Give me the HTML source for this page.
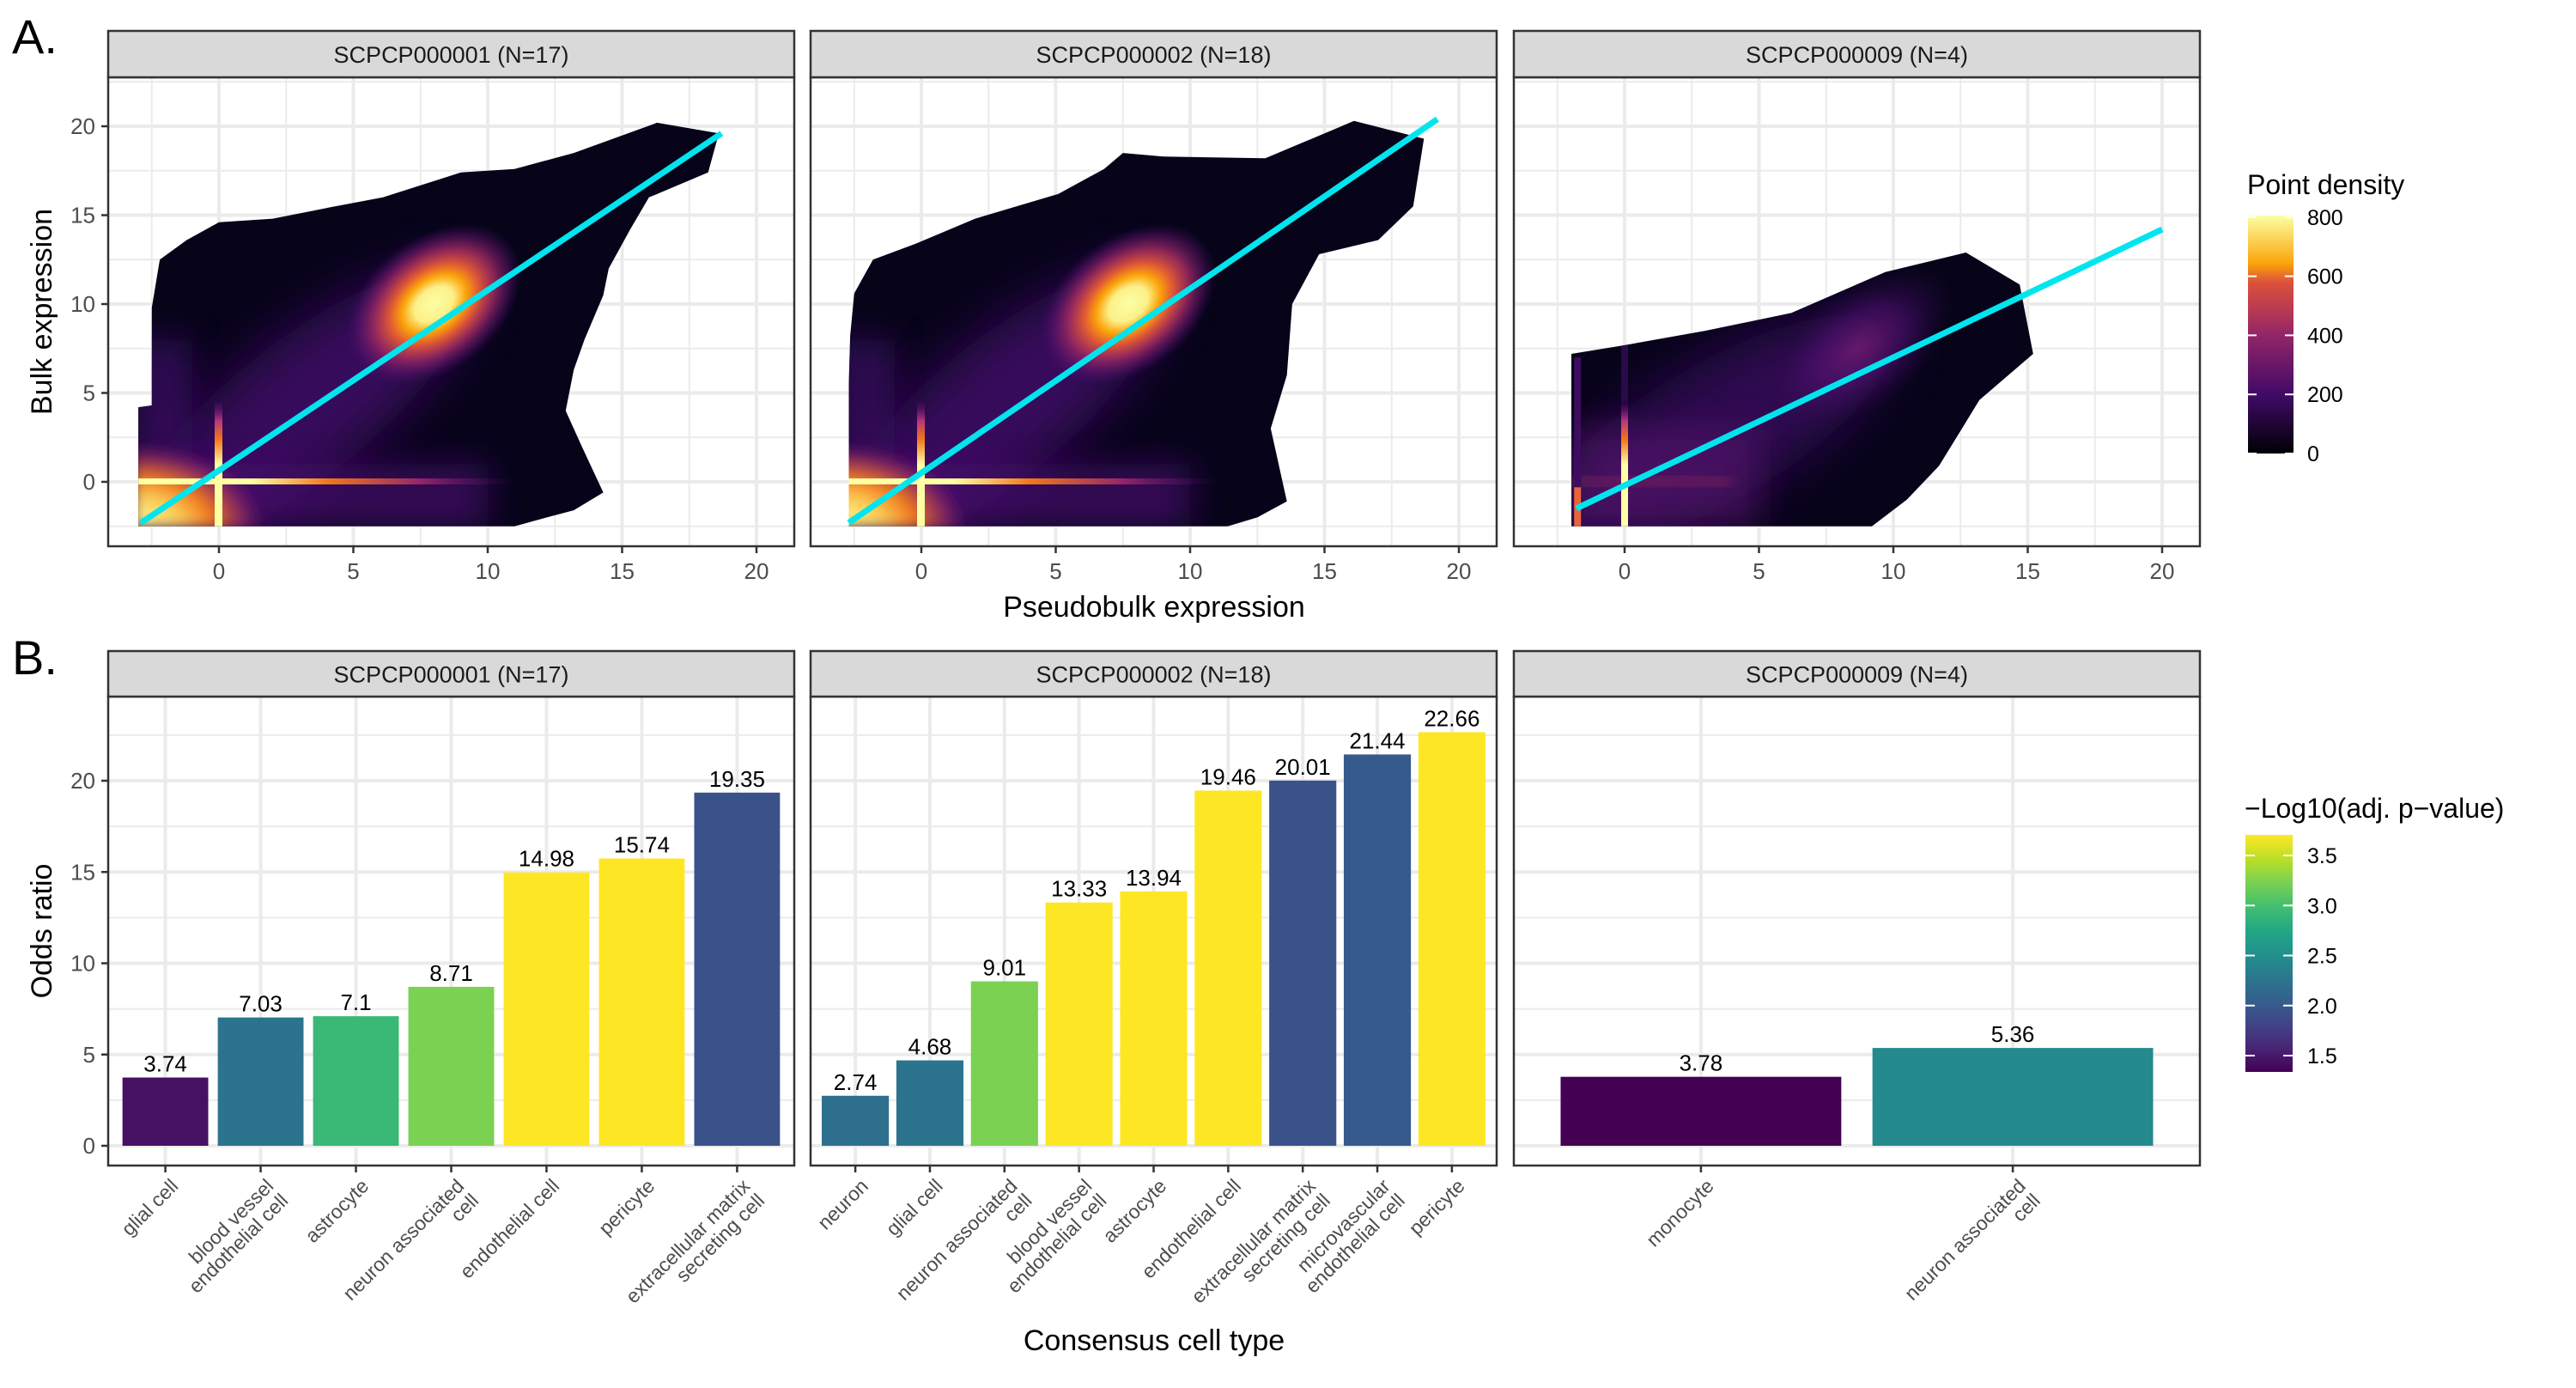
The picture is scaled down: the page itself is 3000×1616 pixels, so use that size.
<!DOCTYPE html>
<html><head><meta charset="utf-8">
<style>
html,body{margin:0;padding:0;background:#fff;}
svg{display:block;font-family:"Liberation Sans",Arial,sans-serif;}
</style></head>
<body>
<svg id="fig" width="3000" height="1616" viewBox="0 0 3000 1616" xmlns="http://www.w3.org/2000/svg">
<defs>
<filter id="blur8" x="-50%" y="-50%" width="200%" height="200%"><feGaussianBlur stdDeviation="8"/></filter>
<filter id="blur20" x="-50%" y="-50%" width="200%" height="200%"><feGaussianBlur stdDeviation="20"/></filter>
<filter id="blur30" x="-50%" y="-50%" width="200%" height="200%"><feGaussianBlur stdDeviation="30"/></filter>
<radialGradient id="hot" cx="0.5" cy="0.5" r="0.5">
<stop offset="0" stop-color="#fcffa4"/><stop offset="0.22" stop-color="#fcf08a"/><stop offset="0.36" stop-color="#fca50a"/><stop offset="0.5" stop-color="#e05a33"/><stop offset="0.68" stop-color="#a52c60" stop-opacity="0.85"/><stop offset="0.85" stop-color="#6a176e" stop-opacity="0.5"/><stop offset="1" stop-color="#420a68" stop-opacity="0"/>
</radialGradient>
<radialGradient id="hot3" cx="0.5" cy="0.5" r="0.5">
<stop offset="0" stop-color="#6e1b6e"/><stop offset="0.5" stop-color="#4b0f6c" stop-opacity="0.7"/><stop offset="1" stop-color="#2a0a48" stop-opacity="0"/>
</radialGradient>
<radialGradient id="corner" cx="0" cy="1" r="1">
<stop offset="0" stop-color="#fcffa4"/><stop offset="0.35" stop-color="#fcd25a"/><stop offset="0.6" stop-color="#f37819"/><stop offset="0.85" stop-color="#932667" stop-opacity="0.7"/><stop offset="1" stop-color="#420a68" stop-opacity="0"/>
</radialGradient>
<linearGradient id="vstreak" x1="0" y1="1" x2="0" y2="0">
<stop offset="0" stop-color="#fcffa4"/><stop offset="0.5" stop-color="#fcffa4"/><stop offset="0.7" stop-color="#f37819"/><stop offset="0.85" stop-color="#b5367a"/><stop offset="1" stop-color="#420a68" stop-opacity="0.3"/>
</linearGradient>
<linearGradient id="hstreak" x1="0" y1="0" x2="1" y2="0">
<stop offset="0" stop-color="#fcffa4"/><stop offset="0.3" stop-color="#fcffa4"/><stop offset="0.5" stop-color="#f37819"/><stop offset="0.75" stop-color="#932667"/><stop offset="1" stop-color="#420a68" stop-opacity="0"/>
</linearGradient>
<linearGradient id="infernoLeg" x1="0" y1="1" x2="0" y2="0">
<stop offset="0" stop-color="#000004"/><stop offset="0.25" stop-color="#420a68"/><stop offset="0.5" stop-color="#932667"/><stop offset="0.72" stop-color="#dd513a"/><stop offset="0.8" stop-color="#fca50a"/><stop offset="1" stop-color="#fcffa4"/>
</linearGradient>
<linearGradient id="viridisLeg" x1="0" y1="1" x2="0" y2="0">
<stop offset="0" stop-color="#440154"/><stop offset="0.1" stop-color="#482475"/><stop offset="0.2" stop-color="#414487"/><stop offset="0.3" stop-color="#355f8d"/><stop offset="0.4" stop-color="#2a788e"/><stop offset="0.5" stop-color="#21918c"/><stop offset="0.6" stop-color="#22a884"/><stop offset="0.7" stop-color="#44bf70"/><stop offset="0.8" stop-color="#7ad151"/><stop offset="0.9" stop-color="#bddf26"/><stop offset="1" stop-color="#fde725"/>
</linearGradient>
</defs>
<text x="14" y="62" font-size="56" fill="#000">A.</text>
<text x="14" y="785" font-size="56" fill="#000">B.</text>
<g id="root"></g>
</svg>
<script>
// ---------- data: panel A ----------
const studyNames = ["SCPCP000001 (N=17)", "SCPCP000002 (N=18)", "SCPCP000009 (N=4)"];
const xTicksA = [0, 5, 10, 15, 20];
const yTicksA = [0, 5, 10, 15, 20];
const hull1 = [[-3.0,-2.5],[-3.0,4.2],[-2.5,4.3],[-2.5,9.8],[-2.2,12.5],[-1.2,13.6],[0,14.6],[2,14.8],[4,15.4],[6.1,16],[9,17.4],[11,17.6],[13.2,18.5],[16.3,20.2],[18.6,19.6],[18.2,17.4],[16,16],[15.3,14.2],[14.5,12],[14.3,10.5],[13.6,8],[13.2,6.3],[12.9,4.0],[13.5,2.0],[14.3,-0.6],[13.2,-1.6],[12.2,-2.0],[11,-2.5]];
const hull2 = [[-2.7,-2.5],[-2.7,5.5],[-2.65,8.2],[-2.5,10.6],[-1.8,12.5],[-0.2,13.4],[2,14.8],[5.1,16.2],[6.8,17.6],[7.5,18.5],[9,18.3],[12.8,18.2],[16.1,20.3],[18.7,19.3],[18.3,15.5],[17,13.6],[14.8,12.8],[13.8,10.0],[13.6,6.0],[13.0,3.0],[13.6,-1.1],[12.5,-2.0],[11.4,-2.5]];
const hull3 = [[-1.98,-2.5],[-1.98,7.2],[0.05,7.7],[3,8.5],[6.2,9.5],[9.7,11.8],[12.7,12.9],[14.7,11.1],[15.2,7.2],[13.2,4.6],[11.7,0.9],[10.5,-1.0],[9.2,-2.5]];
const hulls = [hull1, hull2, hull3];
// hotspot centers (x, y, intensity 0..1)
const hotX = [8.0, 7.7, 8.7];
const hotY = [10.0, 10.0, 7.5];
const hotI = [1.0, 1.0, 0.9];
// regression line endpoints
const lineX0 = [-2.9, -2.7, -1.8];
const lineY0 = [-2.3, -2.3, -1.5];
const lineX1 = [18.7, 19.2, 20.0];
const lineY1 = [19.6, 20.4, 14.2];
const densityTicks = [0, 200, 400, 600, 800];

// ---------- data: panel B ----------
const cats1 = [["glial cell"],["blood vessel","endothelial cell"],["astrocyte"],["neuron associated","cell"],["endothelial cell"],["pericyte"],["extracellular matrix","secreting cell"]];
const odds1 = [3.74, 7.03, 7.1, 8.71, 14.98, 15.74, 19.35];
const logp1 = [1.45, 2.24, 2.92, 3.23, 3.7, 3.7, 1.93];
const cats2 = [["neuron"],["glial cell"],["neuron associated","cell"],["blood vessel","endothelial cell"],["astrocyte"],["endothelial cell"],["extracellular matrix","secreting cell"],["microvascular","endothelial cell"],["pericyte"]];
const odds2 = [2.74, 4.68, 9.01, 13.33, 13.94, 19.46, 20.01, 21.44, 22.66];
const logp2 = [2.2, 2.25, 3.23, 3.7, 3.7, 3.7, 1.93, 2.0, 3.7];
const cats3 = [["monocyte"],["neuron associated","cell"]];
const odds3 = [3.78, 5.36];
const logp3 = [1.34, 2.45];
const oddsLabels1 = ["3.74","7.03","7.1","8.71","14.98","15.74","19.35"];
const oddsLabels2 = ["2.74","4.68","9.01","13.33","13.94","19.46","20.01","21.44","22.66"];
const oddsLabels3 = ["3.78","5.36"];
const yTicksB = [0, 5, 10, 15, 20];
const pTicks = [1.5, 2.0, 2.5, 3.0, 3.5];

// ---------- layout ----------
const NS = "http://www.w3.org/2000/svg";
const root = document.getElementById("root");
function mk(tag, attrs, parent, text) {
  const e = document.createElementNS(NS, tag);
  for (const k in attrs) e.setAttribute(k, attrs[k]);
  if (text !== undefined) e.textContent = text;
  (parent || root).appendChild(e);
  return e;
}
const panelL = [126, 944, 1763];
const panelW = 799;
const AX0 = 255 - 126, AXk = 31.3;
function axX(p, v) { return panelL[p] + AX0 + AXk * v; }
const AYtop = 90, AYbot = 636;
function axY(v) { return 561 - 20.7 * v; }
const BYtop = 811, BYbot = 1357;
function byY(v) { return 1334 - 21.25 * v; }

const vir = ["#440154","#482475","#414487","#355f8d","#2a788e","#21918c","#22a884","#44bf70","#7ad151","#bddf26","#fde725"];
function hex2rgb(h){return [parseInt(h.slice(1,3),16),parseInt(h.slice(3,5),16),parseInt(h.slice(5,7),16)];}
function viridis(v) {
  let t = (v - 1.34) / (3.7 - 1.34); t = Math.max(0, Math.min(1, t));
  const f = t * 10, i = Math.min(9, Math.floor(f)), r = f - i;
  const a = hex2rgb(vir[i]), b = hex2rgb(vir[i+1]);
  return "rgb(" + a.map((c,k)=>Math.round(c + (b[k]-c)*r)).join(",") + ")";
}

function strip(p, y0, y1, label, nm) {
  const g = mk("g", {});
  
  
  mk("rect", {x: panelL[p], y: y0, width: panelW, height: y1 - y0, fill: "#d9d9d9", stroke: "#333", "stroke-width": 2.5}, g);
  mk("text", {x: panelL[p] + panelW/2, y: (y0+y1)/2 + 10, "font-size": 27, fill: "#1a1a1a", "text-anchor": "middle"}, g, label);
}

// ===== Panel A =====
for (let p = 0; p < 3; p++) {
  const L = panelL[p];
  const g = mk("g", {});
  
  
  for (let v = -2.5; v <= 22.5; v += 2.5) {
    const y = axY(v); if (y < AYtop || y > AYbot) continue;
    const major = Math.abs(v % 5) < 1e-6;
    mk("line", {x1: L, x2: L+panelW, y1: y, y2: y, stroke: "#ebebeb", "stroke-width": major ? 4 : 2}, g);
  }
  for (let v = -2.5; v <= 22.5; v += 2.5) {
    const x = axX(p, v); if (x < L || x > L+panelW) continue;
    const major = Math.abs(v % 5) < 1e-6;
    mk("line", {x1: x, x2: x, y1: AYtop, y2: AYbot, stroke: "#ebebeb", "stroke-width": major ? 4 : 2}, g);
  }
  const cid = "clip" + p;
  const cp = mk("clipPath", {id: cid}, g);
  mk("polygon", {points: hulls[p].map(q => axX(p,q[0]).toFixed(1)+","+axY(q[1]).toFixed(1)).join(" ")}, cp);
  const dg = mk("g", {"clip-path": "url(#"+cid+")"}, g);
  
  
  mk("rect", {x: L, y: AYtop, width: panelW, height: AYbot-AYtop, fill: "#07041a"}, dg);
  const hx = hotX[p], hy = hotY[p];
  const mx = (axX(p,hx)+axX(p,-2))/2, my = (axY(hy)+axY(-2))/2;
  const ang = Math.atan2(axY(hy)-axY(-2), axX(p,hx)-axX(p,-2)) * 180/Math.PI;
  mk("ellipse", {cx: mx, cy: my, rx: Math.hypot(axX(p,hx)-axX(p,-2), axY(hy)-axY(-2))/2+40, ry: 80,
    transform: "rotate(" + ang + " " + mx + " " + my + ")",
    fill: "#3f0d68", opacity: p === 2 ? 0.7 : 0.85, filter: "url(#blur30)"}, dg);
  if (p < 2) {
    mk("rect", {x: axX(p,-3.2), y: axY(8), width: axX(p,-1)-axX(p,-3.2), height: axY(1)-axY(8), fill: "#3a0c62", opacity: 0.8, filter: "url(#blur20)"}, dg);
    mk("rect", {x: axX(p,-3.2), y: axY(1), width: axX(p,10)-axX(p,-3.2), height: axY(-2.6)-axY(1), fill: "#4a1070", opacity: 0.7, filter: "url(#blur20)"}, dg);
  }
  const hc = mk("ellipse", {cx: axX(p,hx), cy: axY(hy), rx: p === 2 ? 130 : 115, ry: p === 2 ? 70 : 78,
    transform: "rotate(-38 " + axX(p,hx) + " " + axY(hy) + ")", fill: p === 2 ? "url(#hot3)" : "url(#hot)", opacity: hotI[p]}, dg);
  
  
  if (p < 2) {
    mk("rect", {x: axX(p,-3.2), y: axY(2.2), width: axX(p,1.8)-axX(p,-3.2), height: axY(-2.6)-axY(2.2), fill: "url(#corner)", filter: "url(#blur8)"}, dg);
    mk("rect", {x: axX(p,-3), y: axY(0)-4, width: axX(p,11)-axX(p,-3), height: 7, fill: "url(#hstreak)"}, dg);
    mk("rect", {x: axX(p,0)-5, y: axY(4.5), width: 9, height: axY(-2.6)-axY(4.5), fill: "url(#vstreak)"}, dg);
  } else {
    mk("rect", {x: axX(p,-2), y: axY(3), width: axX(p,5)-axX(p,-2), height: axY(-2.6)-axY(3), fill: "#5a1470", opacity: 0.55, filter: "url(#blur20)"}, dg);
    mk("rect", {x: axX(p,-2), y: axY(0)-4, width: axX(p,4)-axX(p,-2), height: 7, fill: "#b8385a", opacity: 0.6, filter: "url(#blur8)"}, dg);
    mk("rect", {x: axX(p,-1.75)-4, y: axY(-0.3), width: 8, height: axY(-2.6)-axY(-0.3), fill: "#e8623a"}, dg);
    mk("rect", {x: axX(p,-1.75)-4, y: axY(7), width: 8, height: axY(-0.3)-axY(7), fill: "#3d0c5e"}, dg);
    mk("rect", {x: axX(p,0)-4, y: axY(4.5), width: 8, height: axY(-2.6)-axY(4.5), fill: "url(#vstreak)"}, dg);
    mk("rect", {x: axX(p,0)-4, y: axY(14), width: 8, height: axY(4.5)-axY(14), fill: "#2a0a48"}, dg);
  }
  const rl = mk("line", {x1: axX(p,lineX0[p]), y1: axY(lineY0[p]), x2: axX(p,lineX1[p]), y2: axY(lineY1[p]), stroke: "#00e5ee", "stroke-width": 7, "stroke-linecap": "butt"}, g);
  
  
  mk("rect", {x: L, y: AYtop, width: panelW, height: AYbot-AYtop, fill: "none", stroke: "#333", "stroke-width": 2.5}, g);
  xTicksA.forEach(v => {
    const x = axX(p, v);
    mk("line", {x1: x, x2: x, y1: AYbot, y2: AYbot+8, stroke: "#333", "stroke-width": 2.5}, g);
    const t = mk("text", {x: x, y: AYbot+38, "font-size": 26, fill: "#4d4d4d", "text-anchor": "middle"}, g, String(v));
    
    
  });
  strip(p, 36, 90, studyNames[p], 'strip-a-' + (p+1));
}
yTicksA.forEach(v => {
  const y = axY(v);
  mk("line", {x1: 118, x2: 126, y1: y, y2: y, stroke: "#333", "stroke-width": 2.5});
  const t = mk("text", {x: 111, y: y+9, "font-size": 26, fill: "#4d4d4d", "text-anchor": "end"}, root, String(v));
  
  
});
{
  const t = mk("text", {x: 0, y: 0, "font-size": 34, fill: "#000", "text-anchor": "middle", transform: "translate(60 363) rotate(-90)"}, root, "Bulk expression");
  
  
  const t2 = mk("text", {x: 1344, y: 718, "font-size": 34, fill: "#000", "text-anchor": "middle"}, root, "Pseudobulk expression");
  
  
}
{
  const g = mk("g", {});
  
  
  mk("text", {x: 2617, y: 226, "font-size": 32, fill: "#000"}, g, "Point density");
  mk("rect", {x: 2618, y: 251, width: 53, height: 277, fill: "url(#infernoLeg)"}, g);
  densityTicks.forEach(v => {
    const y = 528 - v * 0.344;
    mk("line", {x1: 2618, x2: 2628, y1: y, y2: y, stroke: "#fff", "stroke-width": 2}, g);
    mk("line", {x1: 2661, x2: 2671, y1: y, y2: y, stroke: "#fff", "stroke-width": 2}, g);
    mk("text", {x: 2687, y: y+9, "font-size": 25, fill: "#000"}, g, String(v));
  });
}

// ===== Panel B =====
const catsAll = [cats1, cats2, cats3], oddsAll = [odds1, odds2, odds3], logpAll = [logp1, logp2, logp3], labAll = [oddsLabels1, oddsLabels2, oddsLabels3];
for (let p = 0; p < 3; p++) {
  const L = panelL[p];
  const cats = catsAll[p], n = cats.length;
  const step = panelW / (n - 1 + 1.2);
  const cxOf = i => L + step * (0.6 + i);
  const g = mk("g", {});
  
  
  for (let v = 0; v <= 22.5; v += 2.5) {
    const y = byY(v);
    const major = Math.abs(v % 5) < 1e-6;
    mk("line", {x1: L, x2: L+panelW, y1: y, y2: y, stroke: "#ebebeb", "stroke-width": major ? 4 : 2}, g);
  }
  for (let i = 0; i < n; i++) mk("line", {x1: cxOf(i), x2: cxOf(i), y1: BYtop, y2: BYbot, stroke: "#ebebeb", "stroke-width": 4}, g);
  for (let i = 0; i < n; i++) {
    const v = oddsAll[p][i], cx = cxOf(i), w = step * 0.9;
    const b = mk("rect", {x: cx - w/2, y: byY(v), width: w, height: byY(0) - byY(v), fill: viridis(logpAll[p][i])}, g);
    
    
    const t = mk("text", {x: cx, y: byY(v) - 7, "font-size": 26, fill: "#000", "text-anchor": "middle"}, g, labAll[p][i]);
    
    
    mk("line", {x1: cx, x2: cx, y1: BYbot, y2: BYbot+8, stroke: "#333", "stroke-width": 2.5}, g);
    const lab = mk("text", {transform: "translate(" + (cx+5) + " " + (BYbot+14) + ") rotate(-45)", "font-size": 23, fill: "#4d4d4d", "text-anchor": "end"}, g);
    
    
    cats[i].forEach((ln, k) => mk("tspan", {x: 0, y: 16 + k * 24}, lab, ln));
  }
  mk("rect", {x: L, y: BYtop, width: panelW, height: BYbot-BYtop, fill: "none", stroke: "#333", "stroke-width": 2.5}, g);
  strip(p, 758, 811, studyNames[p], 'strip-b-' + (p+1));
}
yTicksB.forEach(v => {
  const y = byY(v);
  mk("line", {x1: 118, x2: 126, y1: y, y2: y, stroke: "#333", "stroke-width": 2.5});
  const t = mk("text", {x: 111, y: y+9, "font-size": 26, fill: "#4d4d4d", "text-anchor": "end"}, root, String(v));
  
  
});
{
  const t = mk("text", {x: 0, y: 0, "font-size": 34, fill: "#000", "text-anchor": "middle", transform: "translate(60 1084) rotate(-90)"}, root, "Odds ratio");
  
  
  const t2 = mk("text", {x: 1344, y: 1572, "font-size": 34, fill: "#000", "text-anchor": "middle"}, root, "Consensus cell type");
  
  
}
{
  const g = mk("g", {});
  
  
  mk("text", {x: 2614, y: 952, "font-size": 32, fill: "#000"}, g, "\u2212Log10(adj. p\u2212value)");
  mk("rect", {x: 2615, y: 972, width: 55, height: 276, fill: "url(#viridisLeg)"}, g);
  pTicks.forEach(v => {
    const y = 996 + (3.5 - v) * 116.5;
    mk("line", {x1: 2615, x2: 2626, y1: y, y2: y, stroke: "#fff", "stroke-width": 2}, g);
    mk("line", {x1: 2659, x2: 2670, y1: y, y2: y, stroke: "#fff", "stroke-width": 2}, g);
    mk("text", {x: 2687, y: y+9, "font-size": 25, fill: "#000"}, g, v.toFixed(1));
  });
}
</script>
</body></html>
